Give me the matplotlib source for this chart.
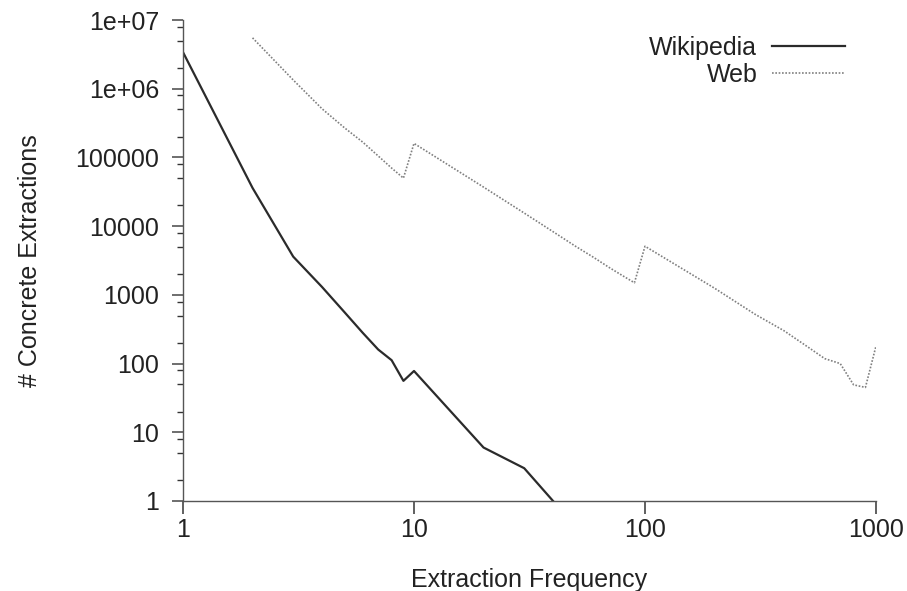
import numpy as np
import matplotlib
matplotlib.use('Agg')
import matplotlib.pyplot as plt
from matplotlib.ticker import LogLocator, NullLocator

# Data
wiki_freq = [1, 2, 3, 4, 5, 6, 7, 8, 9, 10, 20, 30, 40]
wiki_count = [3.4e6, 36000, 3600, 1300, 560, 280, 160, 112, 56, 78, 6, 3, 1]

web_freq = [2, 3, 4, 5, 6, 7, 8, 9, 10, 20, 30, 40, 50, 60, 70, 80, 90,
            100, 200, 300, 400, 500, 600, 700, 800, 900, 1000]
web_count = [5.5e6, 1.34e6, 5.1e5, 2.7e5, 1.67e5, 1.05e5, 70000, 50000,
             1.6e5, 37000, 15500, 8300, 5100, 3500, 2500, 1900, 1500,
             5100, 1250, 520, 300, 180, 118, 100, 49, 45, 180]

series_labels = ['Wikipedia', 'Web']

y_ticks = [1, 10, 100, 1000, 1e4, 1e5, 1e6, 1e7]
y_tick_labels = ['1', '10', '100', '1000', '10000', '100000', '1e+06', '1e+07']
x_ticks = [1, 10, 100, 1000]
x_tick_labels = ['1', '10', '100', '1000']

plt.rcParams['font.family'] = ['Liberation Sans', 'DejaVu Sans']

fig = plt.figure(figsize=(9.07, 5.91), dpi=100)
ax = fig.add_axes([183 / 907, 1 - 501 / 591, (876 - 183) / 907, (501 - 20) / 591])

ax.plot(wiki_freq, wiki_count, color='#2b2b2b', lw=1.6, label=series_labels[0])
ax.plot(web_freq, web_count, color='#808080', lw=1.2, ls=(0, (1, 1)),
        label=series_labels[1])

ax.set_xscale('log')
ax.set_yscale('log')
ax.set_xlim(1, 1000)
ax.set_ylim(1, 1e7)

ax.set_yticks(y_ticks, y_tick_labels)
ax.set_xticks(x_ticks, x_tick_labels)
ax.yaxis.set_minor_locator(LogLocator(base=10, subs=(2, 5, 8), numticks=20))
ax.xaxis.set_minor_locator(NullLocator())

for s in ['top', 'right']:
    ax.spines[s].set_visible(False)
for s in ['left', 'bottom']:
    ax.spines[s].set_color('#555555')
    ax.spines[s].set_linewidth(1.0)

ax.tick_params(axis='y', which='major', direction='out', length=8, width=1.2,
               color='#555555', pad=9, labelsize=18, labelcolor='#222222')
ax.tick_params(axis='y', which='minor', direction='out', length=4, width=1,
               color='#333333')
ax.tick_params(axis='x', which='major', direction='out', length=9, width=1.2,
               color='#444444', pad=3, labelsize=18, labelcolor='#222222')

ax.set_xlabel('Extraction Frequency', fontsize=18, color='#222222', labelpad=19)
ax.set_ylabel('# Concrete Extractions', fontsize=18, color='#222222', labelpad=24)

ax.legend(loc='upper right', bbox_to_anchor=(0.955, 0.967), frameon=False,
          markerfirst=False, fontsize=18, handlelength=2.9, handletextpad=0.6,
          labelspacing=0.12, borderpad=0, borderaxespad=0,
          labelcolor='#222222')

fig.savefig('out.png', dpi=100)
